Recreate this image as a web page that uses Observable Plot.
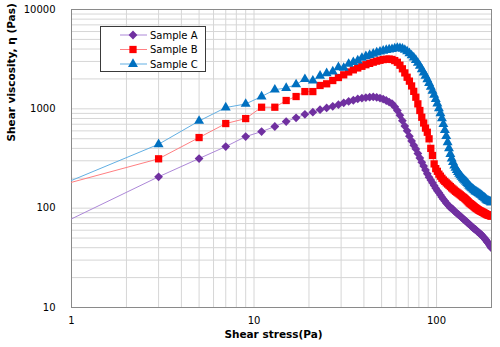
<!DOCTYPE html>
<html>
<head>
<meta charset="utf-8">
<script src="https://cdn.jsdelivr.net/npm/d3@7"></script>
<script src="https://cdn.jsdelivr.net/npm/@observablehq/plot@0.6"></script>
<style>
  html, body { margin: 0; padding: 0; background: #fff; }
  #wrap { position: relative; width: 500px; height: 347px; font-family: 'DejaVu Sans', sans-serif; }
  #legend { position: absolute; left: 100px; top: 26px; }
</style>
</head>
<body>
<div id="wrap"><div id="chart"></div><div id="legend"></div></div>
<script>
// Shear stress (Pa)
const shearStress = [1,3,5,7,9,11,13,15,17,19,21,23,25,27,29,31,33,35,37,39,41,43,45,47,49,51,53,55,57,59,61,63,65,67,69,71,73,75,77,79,81,83,85,87,89,91,93,95,97,99,101,103,105,107,109,111,113,115,117,119,121,123,125,127,129,131,133,135,137,139,141,143,145,147,149,151,153,155,157,159,161,163,165,167,169,171,173,175,177,179,181,183,185,187,189,191,193,195,197,199];

// Shear viscosity (Pas)
const sampleA = [78,207,316,417,526,590,664,745,811,880,925,980,1020,1060,1100,1150,1186,1220,1257,1280,1300,1310,1316,1305,1285,1255,1213,1170,1130,1050,960,860,760,670,600,530,475,430,395,355,320,290,265,242,222,205,192,180,169,159,150,143,136,129,123,118,113,109,105,101,100,97,94,91,89,87,85,83,81,79,77,75.5,74,72,70.5,69,67.5,66,64.5,63,62,61,60,58.5,57.5,56.5,55.5,54.5,53.5,52,51,50,48.5,47.5,46,45,44,42.5,41.5,40];
const sampleB = [182,314,514,711,798,1038,1038,1213,1330,1492,1492,1718,1786,1928,2066,2200,2350,2470,2580,2680,2780,2870,2950,3020,3080,3130,3160,3170,3140,3060,2944,2750,2529,2300,2080,1900,1700,1500,1309,1122,962,823,720,640,581,499,400,339,279,250,235,220,210,200,192,186,180,175,170,165,160,156,152,148,145,142,139,136,133,130,128,125,122,119,116,113,111,109,107,105,103,101,99.5,98,96.5,95,94,93,92,91,90,89,88,87,86,85.5,85,84.5,84,83];
const sampleC = [190,440,755,1030,1120,1330,1560,1620,1760,1990,1920,2150,2280,2370,2620,2580,2830,2950,3060,3250,3380,3480,3580,3680,3760,3840,3900,3950,3990,4050,4100,4080,4020,3920,3780,3620,3450,3280,3100,2900,2700,2500,2320,2150,1980,1820,1660,1520,1380,1250,1130,1010,900,800,700,610,530,460,400,350,315,290,268,255,242,231,222,214,207,200,194,189,184,179,174,168,164,160,157,154,151,148,146,144,142,140,138,136,134,131,129,127,125,122,120,119,118,117,116,114];

const seriesNames = ["Sample A", "Sample B", "Sample C"];
const xTicks = [1, 10, 100];
const yTicks = [10, 100, 1000, 10000];
const xGrid = [1,2,3,4,5,6,7,8,9,10,20,30,40,50,60,70,80,90,100,200];
const yGrid = [10,20,30,40,50,60,70,80,90,100,200,300,400,500,600,700,800,900,1000,2000,3000,4000,5000,6000,7000,8000,9000,10000];

const markerColors = ["#7030a0", "#ff0000", "#0070c0"];
const lineColors = ["#ad88d8", "#ff7f82", "#62afe3"];
const symbols = ["square", "square", "triangle"];
const rotations = [45, 0, 0];
const radii = [3.5, 4.1, 3.7];

const values = [sampleA, sampleB, sampleC];
const series = seriesNames.map((name, k) =>
  shearStress.map((x, i) => ({x, y: values[k][i], series: name}))
);

const marks = [
  Plot.ruleX(xGrid, {stroke: "#d6d6d6", strokeWidth: 1}),
  Plot.ruleY(yGrid, {stroke: "#d6d6d6", strokeWidth: 1}),
  Plot.frame({stroke: "#8a8a8a", strokeWidth: 1})
];
series.forEach((rows, k) => {
  marks.push(Plot.line(rows, {x: "x", y: "y", stroke: lineColors[k], strokeWidth: 1, clip: true}));
});
series.forEach((rows, k) => {
  marks.push(Plot.dot(rows.filter(d => d.x > 1), {
    x: "x", y: "y", symbol: () => symbols[k], fill: markerColors[k], r: radii[k],
    rotate: rotations[k], stroke: "none", clip: true
  }));
});
marks.push(
  Plot.axisX({ticks: xTicks, tickFormat: d => String(d), tickSize: 0, tickPadding: 9, label: null, fontSize: 10}),
  Plot.axisY({ticks: yTicks, tickFormat: d => String(d), tickSize: 0, tickPadding: 16, label: null, fontSize: 10}),
  Plot.text(["Shear stress(Pa)"], {frameAnchor: "bottom", dy: 30, dx: -8, fontWeight: "bold", fontSize: 10.5}),
  Plot.text(["Shear viscosity, \u03b7 (Pas)"], {frameAnchor: "left", rotate: -90, dx: -60, dy: -17, fontWeight: "bold", fontSize: 10.5})
);

const chart = Plot.plot({
  width: 500, height: 347,
  marginLeft: 71, marginRight: 9, marginTop: 9, marginBottom: 40,
  x: {type: "log", domain: [1, 200]},
  y: {type: "log", domain: [10, 10000]},
  symbol: {type: "identity"},
  style: {fontFamily: "'DejaVu Sans', sans-serif", fontSize: "10px", background: "white", color: "#000"},
  marks
});
document.getElementById("chart").appendChild(chart);

// Legend
const lw = 106, lh = 46;
const lg = d3.select("#legend").append("svg").attr("width", lw).attr("height", lh)
  .style("font-family", "'DejaVu Sans', sans-serif");
lg.append("rect").attr("x", 0.5).attr("y", 0.5).attr("width", lw - 1).attr("height", lh - 1)
  .attr("fill", "white").attr("stroke", "#3a3a3a").attr("stroke-width", 1);
const symGen = [d3.symbolSquare, d3.symbolSquare, d3.symbolTriangle];
seriesNames.forEach((name, k) => {
  const cy = 9 + k * 14.5;
  lg.append("line").attr("x1", 20).attr("x2", 47).attr("y1", cy).attr("y2", cy)
    .attr("stroke", lineColors[k]).attr("stroke-width", 1);
  lg.append("path").attr("d", d3.symbol(symGen[k], Math.PI * radii[k] * radii[k])())
    .attr("transform", `translate(33,${cy}) rotate(${rotations[k]})`).attr("fill", markerColors[k]);
  lg.append("text").attr("x", 50).attr("y", cy).attr("dy", "0.35em").attr("font-size", 10)
    .attr("fill", "#000").text(name);
});
</script>
</body>
</html>
